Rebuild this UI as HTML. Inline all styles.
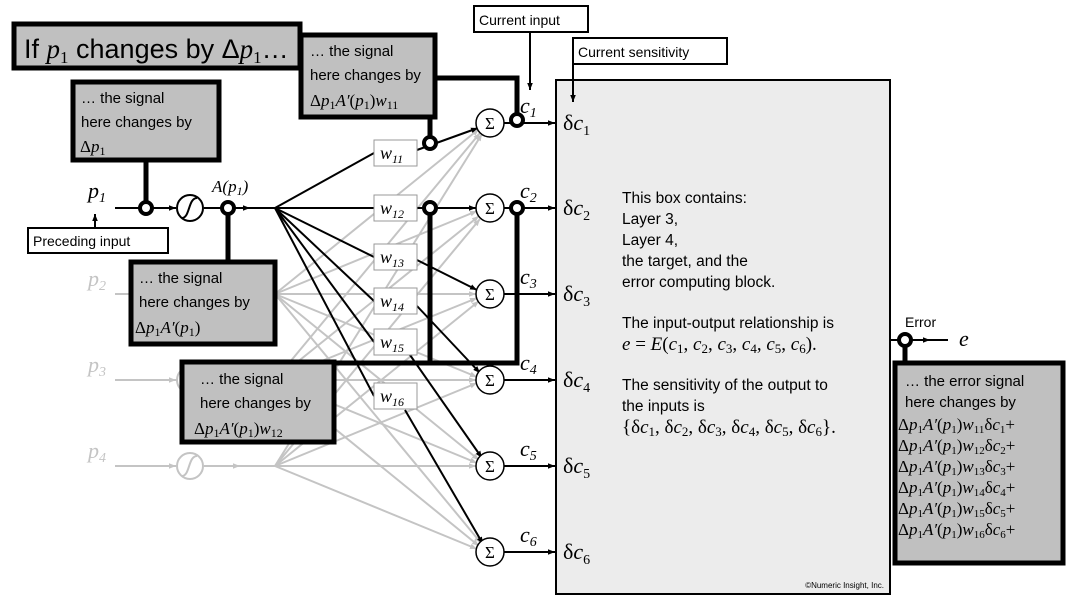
<!DOCTYPE html>
<html><head><meta charset="utf-8"><style>
body{margin:0;background:#fff;width:1080px;height:605px;overflow:hidden}
svg{display:block}
.s{font-family:"Liberation Sans",sans-serif}
.m{font-family:"Liberation Serif",serif;font-style:italic}
.r{font-family:"Liberation Serif",serif}
</style></head><body>
<svg width="1080" height="605" viewBox="0 0 1080 605" xmlns="http://www.w3.org/2000/svg">
<defs>
<marker id="ab" viewBox="0 0 10 10" refX="10" refY="5" markerWidth="7" markerHeight="7" orient="auto" markerUnits="userSpaceOnUse"><path d="M0,1 L10,5 L0,9 Z" fill="#000"/></marker>
<marker id="ag" viewBox="0 0 10 10" refX="10" refY="5" markerWidth="7" markerHeight="7" orient="auto" markerUnits="userSpaceOnUse"><path d="M0,1 L10,5 L0,9 Z" fill="#c4c4c4"/></marker>
</defs>

<rect x="556" y="80" width="334" height="514" fill="#ececec" stroke="#000" stroke-width="2"/>

<g stroke="#c4c4c4" stroke-width="2" fill="none" marker-end="url(#ag)">
<line x1="115" y1="294" x2="275" y2="294" marker-end="none"/>
<line x1="115" y1="380" x2="176" y2="380"/>
<line x1="204" y1="380" x2="275" y2="380" marker-end="none"/>
<line x1="115" y1="466" x2="176" y2="466"/>
<line x1="204" y1="466" x2="240" y2="466"/>
<line x1="238" y1="466" x2="275" y2="466" marker-end="none"/>
<line x1="275" y1="294" x2="479" y2="129"/><line x1="275" y1="294" x2="477" y2="211"/><line x1="275" y1="294" x2="476" y2="294"/><line x1="275" y1="294" x2="477" y2="377"/><line x1="275" y1="294" x2="479" y2="460"/><line x1="275" y1="294" x2="481" y2="543"/>
<line x1="275" y1="380" x2="480" y2="133"/><line x1="275" y1="380" x2="479" y2="216"/><line x1="275" y1="380" x2="477" y2="298"/><line x1="275" y1="380" x2="476" y2="380"/><line x1="275" y1="380" x2="477" y2="463"/><line x1="275" y1="380" x2="479" y2="546"/>
<line x1="275" y1="466" x2="482" y2="134"/><line x1="275" y1="466" x2="480" y2="219"/><line x1="275" y1="466" x2="479" y2="301"/><line x1="275" y1="466" x2="477" y2="383"/><line x1="275" y1="466" x2="476" y2="466"/><line x1="275" y1="466" x2="477" y2="549"/>
</g>
<g fill="#fff" stroke="#c4c4c4" stroke-width="2">
<circle cx="190" cy="380" r="13"/><circle cx="190" cy="466" r="13"/>
</g>
<g fill="none" stroke="#c4c4c4" stroke-width="2">
<path d="M182,390 C190,390 188,370 197,370"/><path d="M182,476 C190,476 188,456 197,456"/>
</g>
<g class="m" fill="#c4c4c4" font-size="22">
<text x="88" y="286">p<tspan font-size="14" dy="4" class="r">2</tspan></text>
<text x="88" y="372">p<tspan font-size="14" dy="4" class="r">3</tspan></text>
<text x="88" y="458">p<tspan font-size="14" dy="4" class="r">4</tspan></text>
</g>

<g stroke="#000" stroke-width="2" fill="none">
<line x1="115" y1="208" x2="176" y2="208" marker-end="url(#ab)"/>
<line x1="204" y1="208" x2="250" y2="208" marker-end="url(#ab)"/>
<line x1="248" y1="208" x2="275" y2="208"/>
<polyline points="275,208 374,153"/><line x1="417" y1="150" x2="478" y2="128" marker-end="url(#ab)"/>
<polyline points="275,208 374,208"/><line x1="417" y1="208" x2="476" y2="208" marker-end="url(#ab)"/>
<polyline points="275,208 374,257"/><line x1="417" y1="260" x2="477" y2="290" marker-end="url(#ab)"/>
<polyline points="275,208 374,301"/><line x1="417" y1="306" x2="480" y2="373" marker-end="url(#ab)"/>
<polyline points="275,208 374,342"/><line x1="410" y1="355" x2="482" y2="458" marker-end="url(#ab)"/>
<polyline points="275,208 374,396"/><line x1="405" y1="410" x2="483" y2="544" marker-end="url(#ab)"/>
</g>
<circle cx="190" cy="208" r="13" fill="#fff" stroke="#000" stroke-width="2"/>
<path d="M182,218 C190,218 188,198 197,198" fill="none" stroke="#000" stroke-width="2"/>

<g fill="#fff" stroke="#999" stroke-width="1">
<rect x="374" y="140" width="43" height="26"/><rect x="374" y="195" width="43" height="26"/>
<rect x="374" y="244" width="43" height="26"/><rect x="374" y="288" width="43" height="26"/>
<rect x="374" y="329" width="43" height="26"/><rect x="374" y="383" width="43" height="26"/>
</g>
<g class="m" font-size="18">
<text x="380" y="159">w<tspan class="r" font-size="12" dy="4">11</tspan></text>
<text x="380" y="214">w<tspan class="r" font-size="12" dy="4">12</tspan></text>
<text x="380" y="263">w<tspan class="r" font-size="12" dy="4">13</tspan></text>
<text x="380" y="307">w<tspan class="r" font-size="12" dy="4">14</tspan></text>
<text x="380" y="348">w<tspan class="r" font-size="12" dy="4">15</tspan></text>
<text x="380" y="402">w<tspan class="r" font-size="12" dy="4">16</tspan></text>
</g>

<g stroke="#000" stroke-width="2" fill="none">
<line x1="504" y1="123" x2="555" y2="123" marker-end="url(#ab)"/>
<line x1="504" y1="208" x2="555" y2="208" marker-end="url(#ab)"/>
<line x1="504" y1="294" x2="555" y2="294" marker-end="url(#ab)"/>
<line x1="504" y1="380" x2="555" y2="380" marker-end="url(#ab)"/>
<line x1="504" y1="466" x2="555" y2="466" marker-end="url(#ab)"/>
<line x1="504" y1="552" x2="555" y2="552" marker-end="url(#ab)"/>
</g>
<g fill="#fff" stroke="#000" stroke-width="1.5">
<circle cx="490" cy="123" r="14"/><circle cx="490" cy="208" r="14"/><circle cx="490" cy="294" r="14"/>
<circle cx="490" cy="380" r="14"/><circle cx="490" cy="466" r="14"/><circle cx="490" cy="552" r="14"/>
</g>
<g class="r" font-size="17" text-anchor="middle">
<text x="490" y="129">Σ</text><text x="490" y="214">Σ</text><text x="490" y="300">Σ</text>
<text x="490" y="386">Σ</text><text x="490" y="472">Σ</text><text x="490" y="558">Σ</text>
</g>
<g class="m" font-size="22">
<text x="520" y="113">c<tspan class="r" font-size="14" dy="4">1</tspan></text>
<text x="520" y="198">c<tspan class="r" font-size="14" dy="4">2</tspan></text>
<text x="520" y="284">c<tspan class="r" font-size="14" dy="4">3</tspan></text>
<text x="520" y="370">c<tspan class="r" font-size="14" dy="4">4</tspan></text>
<text x="520" y="456">c<tspan class="r" font-size="14" dy="4">5</tspan></text>
<text x="520" y="542">c<tspan class="r" font-size="14" dy="4">6</tspan></text>
</g>

<g stroke="#000" stroke-width="5" fill="none">
<line x1="146" y1="160" x2="146" y2="208"/>
<line x1="228" y1="208" x2="228" y2="262"/>
<polyline points="435,78 517,78 517,120"/>
<line x1="430" y1="117" x2="430" y2="143"/>
<polyline points="430,208 430,363 335,363"/>
<polyline points="517,208 517,363 430,363"/>
<line x1="905" y1="340" x2="905" y2="363"/>
</g>
<g fill="#fff" stroke="#000" stroke-width="4">
<circle cx="146" cy="208" r="6"/><circle cx="228" cy="208" r="6"/>
<circle cx="430" cy="143" r="6"/><circle cx="430" cy="208" r="6"/>
<circle cx="517" cy="120" r="6"/><circle cx="517" cy="208" r="6"/>
</g>

<text class="m" x="88" y="198" font-size="22">p<tspan class="r" font-size="14" dy="4">1</tspan></text>
<text class="m" x="212" y="192" font-size="17">A<tspan class="r">(</tspan>p<tspan class="r" font-size="12" dy="3">1</tspan><tspan class="r" dy="-3">)</tspan></text>

<g fill="#c0c0c0" stroke="#000" stroke-width="5">
<rect x="14" y="24" width="286" height="44"/>
<rect x="73" y="82" width="146" height="78"/>
<rect x="131" y="262" width="144" height="82"/>
<rect x="301" y="35" width="134" height="82"/>
<rect x="182" y="362" width="152" height="80"/>
<rect x="895" y="363" width="168" height="200"/>
</g>
<text class="s" x="24" y="58" font-size="27">If <tspan class="m" font-family="Liberation Serif">p</tspan><tspan class="r" font-size="17" dy="5">1</tspan><tspan dy="-5"> changes by Δ</tspan><tspan class="m" font-family="Liberation Serif">p</tspan><tspan class="r" font-size="17" dy="5">1</tspan><tspan dy="-5">…</tspan></text>
<g class="s" font-size="15">
<text x="81" y="103">… the signal</text><text x="81" y="127">here changes by</text>
<text x="80" y="152" class="r" font-size="17">Δ<tspan class="m">p</tspan><tspan font-size="12" dy="3">1</tspan></text>
<text x="139" y="283">… the signal</text><text x="139" y="307">here changes by</text>
<text x="135" y="333" class="r" font-size="17">Δ<tspan class="m">p</tspan><tspan font-size="12" dy="3">1</tspan><tspan dy="-3" class="m">A′</tspan>(<tspan class="m">p</tspan><tspan font-size="12" dy="3">1</tspan><tspan dy="-3">)</tspan></text>
<text x="310" y="56">… the signal</text><text x="310" y="80">here changes by</text>
<text x="310" y="106" class="r" font-size="17">Δ<tspan class="m">p</tspan><tspan font-size="12" dy="3">1</tspan><tspan dy="-3" class="m">A′</tspan>(<tspan class="m">p</tspan><tspan font-size="12" dy="3">1</tspan><tspan dy="-3">)</tspan><tspan class="m">w</tspan><tspan font-size="12" dy="3">11</tspan></text>
<text x="200" y="384">… the signal</text><text x="200" y="408">here changes by</text>
<text x="194" y="434" class="r" font-size="17">Δ<tspan class="m">p</tspan><tspan font-size="12" dy="3">1</tspan><tspan dy="-3" class="m">A′</tspan>(<tspan class="m">p</tspan><tspan font-size="12" dy="3">1</tspan><tspan dy="-3">)</tspan><tspan class="m">w</tspan><tspan font-size="12" dy="3">12</tspan></text>
<text x="905" y="386">… the error signal</text><text x="905" y="407">here changes by</text>
</g>
<g class="r" font-size="17">
<text x="898" y="430">Δ<tspan class="m">p</tspan><tspan font-size="11" dy="3">1</tspan><tspan dy="-3" class="m">A′</tspan>(<tspan class="m">p</tspan><tspan font-size="11" dy="3">1</tspan><tspan dy="-3">)</tspan><tspan class="m">w</tspan><tspan font-size="11" dy="3">11</tspan><tspan dy="-3">δ</tspan><tspan class="m">c</tspan><tspan font-size="11" dy="3">1</tspan><tspan dy="-3">+</tspan></text>
<text x="898" y="451">Δ<tspan class="m">p</tspan><tspan font-size="11" dy="3">1</tspan><tspan dy="-3" class="m">A′</tspan>(<tspan class="m">p</tspan><tspan font-size="11" dy="3">1</tspan><tspan dy="-3">)</tspan><tspan class="m">w</tspan><tspan font-size="11" dy="3">12</tspan><tspan dy="-3">δ</tspan><tspan class="m">c</tspan><tspan font-size="11" dy="3">2</tspan><tspan dy="-3">+</tspan></text>
<text x="898" y="472">Δ<tspan class="m">p</tspan><tspan font-size="11" dy="3">1</tspan><tspan dy="-3" class="m">A′</tspan>(<tspan class="m">p</tspan><tspan font-size="11" dy="3">1</tspan><tspan dy="-3">)</tspan><tspan class="m">w</tspan><tspan font-size="11" dy="3">13</tspan><tspan dy="-3">δ</tspan><tspan class="m">c</tspan><tspan font-size="11" dy="3">3</tspan><tspan dy="-3">+</tspan></text>
<text x="898" y="493">Δ<tspan class="m">p</tspan><tspan font-size="11" dy="3">1</tspan><tspan dy="-3" class="m">A′</tspan>(<tspan class="m">p</tspan><tspan font-size="11" dy="3">1</tspan><tspan dy="-3">)</tspan><tspan class="m">w</tspan><tspan font-size="11" dy="3">14</tspan><tspan dy="-3">δ</tspan><tspan class="m">c</tspan><tspan font-size="11" dy="3">4</tspan><tspan dy="-3">+</tspan></text>
<text x="898" y="514">Δ<tspan class="m">p</tspan><tspan font-size="11" dy="3">1</tspan><tspan dy="-3" class="m">A′</tspan>(<tspan class="m">p</tspan><tspan font-size="11" dy="3">1</tspan><tspan dy="-3">)</tspan><tspan class="m">w</tspan><tspan font-size="11" dy="3">15</tspan><tspan dy="-3">δ</tspan><tspan class="m">c</tspan><tspan font-size="11" dy="3">5</tspan><tspan dy="-3">+</tspan></text>
<text x="898" y="535">Δ<tspan class="m">p</tspan><tspan font-size="11" dy="3">1</tspan><tspan dy="-3" class="m">A′</tspan>(<tspan class="m">p</tspan><tspan font-size="11" dy="3">1</tspan><tspan dy="-3">)</tspan><tspan class="m">w</tspan><tspan font-size="11" dy="3">16</tspan><tspan dy="-3">δ</tspan><tspan class="m">c</tspan><tspan font-size="11" dy="3">6</tspan><tspan dy="-3">+</tspan></text>
</g>

<g fill="#fff" stroke="#000" stroke-width="2">
<rect x="474" y="6" width="114" height="26"/>
<rect x="573" y="38" width="154" height="26"/>
<rect x="28" y="228" width="140" height="25"/>
</g>
<g class="s" font-size="14">
<text x="479" y="25">Current input</text>
<text x="578" y="57">Current sensitivity</text>
<text x="33" y="246">Preceding input</text>
</g>
<g stroke="#000" stroke-width="2" fill="none">
<line x1="530" y1="32" x2="530" y2="90" marker-end="url(#ab)"/>
<line x1="573" y1="64" x2="573" y2="102" marker-end="url(#ab)"/>
<line x1="95" y1="228" x2="95" y2="214" marker-end="url(#ab)"/>
<line x1="890" y1="340" x2="930" y2="340" marker-end="url(#ab)"/>
<line x1="928" y1="340" x2="948" y2="340"/>
</g>
<circle cx="905" cy="340" r="6" fill="#fff" stroke="#000" stroke-width="4"/>
<text class="s" x="905" y="327" font-size="14">Error</text>
<text class="m" x="959" y="346" font-size="22">e</text>

<g class="r" font-size="22">
<text x="563" y="130">δ<tspan class="m">c</tspan><tspan font-size="14" dy="5">1</tspan></text>
<text x="563" y="215">δ<tspan class="m">c</tspan><tspan font-size="14" dy="5">2</tspan></text>
<text x="563" y="301">δ<tspan class="m">c</tspan><tspan font-size="14" dy="5">3</tspan></text>
<text x="563" y="387">δ<tspan class="m">c</tspan><tspan font-size="14" dy="5">4</tspan></text>
<text x="563" y="473">δ<tspan class="m">c</tspan><tspan font-size="14" dy="5">5</tspan></text>
<text x="563" y="559">δ<tspan class="m">c</tspan><tspan font-size="14" dy="5">6</tspan></text>
</g>
<g class="s" font-size="15.5">
<text x="622" y="203">This box contains:</text>
<text x="622" y="224">Layer 3,</text>
<text x="622" y="245">Layer 4,</text>
<text x="622" y="266">the target, and the</text>
<text x="622" y="287">error computing block.</text>
<text x="622" y="328">The input-output relationship is</text>
<text x="622" y="390">The sensitivity of the output to</text>
<text x="622" y="411">the inputs is</text>
</g>
<g class="r" font-size="19">
<text x="622" y="350"><tspan class="m">e</tspan> = <tspan class="m">E</tspan>(<tspan class="m">c</tspan><tspan font-size="13" dy="3">1</tspan><tspan dy="-3">, </tspan><tspan class="m">c</tspan><tspan font-size="13" dy="3">2</tspan><tspan dy="-3">, </tspan><tspan class="m">c</tspan><tspan font-size="13" dy="3">3</tspan><tspan dy="-3">, </tspan><tspan class="m">c</tspan><tspan font-size="13" dy="3">4</tspan><tspan dy="-3">, </tspan><tspan class="m">c</tspan><tspan font-size="13" dy="3">5</tspan><tspan dy="-3">, </tspan><tspan class="m">c</tspan><tspan font-size="13" dy="3">6</tspan><tspan dy="-3">).</tspan></text>
<text x="622" y="433">{δ<tspan class="m">c</tspan><tspan font-size="13" dy="3">1</tspan><tspan dy="-3">, δ</tspan><tspan class="m">c</tspan><tspan font-size="13" dy="3">2</tspan><tspan dy="-3">, δ</tspan><tspan class="m">c</tspan><tspan font-size="13" dy="3">3</tspan><tspan dy="-3">, δ</tspan><tspan class="m">c</tspan><tspan font-size="13" dy="3">4</tspan><tspan dy="-3">, δ</tspan><tspan class="m">c</tspan><tspan font-size="13" dy="3">5</tspan><tspan dy="-3">, δ</tspan><tspan class="m">c</tspan><tspan font-size="13" dy="3">6</tspan><tspan dy="-3">}.</tspan></text>
</g>
<text class="s" x="884" y="588" font-size="8" text-anchor="end">©Numeric Insight, Inc.</text>
</svg>
</body></html>
